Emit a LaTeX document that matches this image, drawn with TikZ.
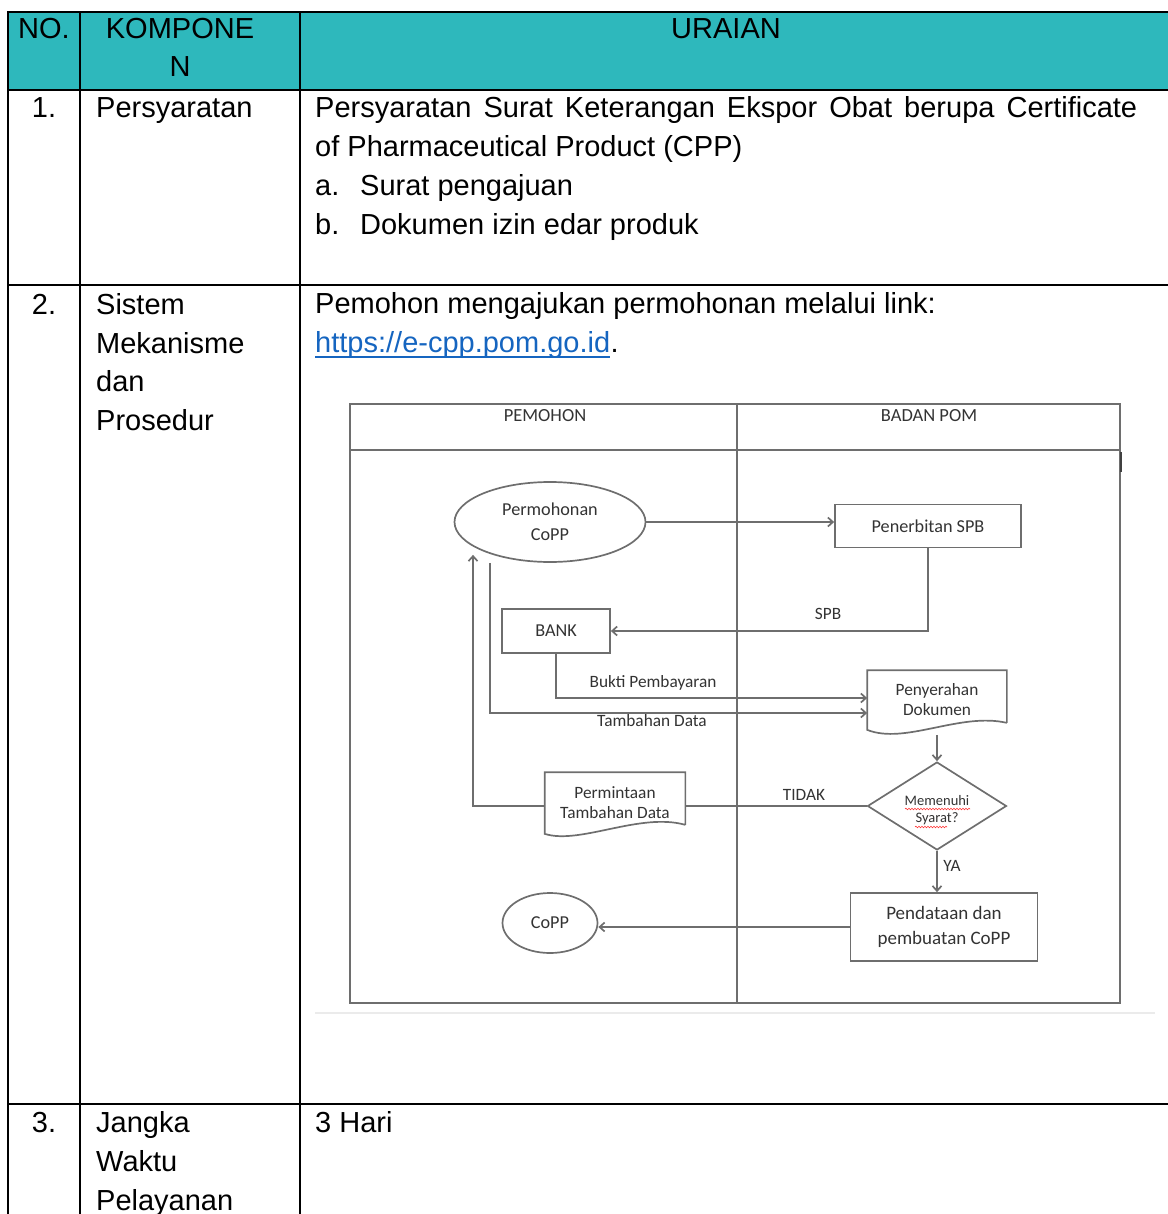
\documentclass[tikz,border=0pt]{standalone}
\usepackage{fontspec}
\setmainfont{Liberation Sans}
\newfontfamily\calfont{Carlito}
\usetikzlibrary{arrows.meta, positioning, shapes.geometric, decorations.pathmorphing}
\definecolor{tealhead}{HTML}{2EB8BC}
\definecolor{linkblue}{HTML}{1565C0}
\definecolor{flowgray}{HTML}{6E6E6E}
\definecolor{flowtext}{HTML}{333333}

\begin{document}
\begin{tikzpicture}[x=1pt, y=-1pt,
    cell/.style={anchor=base west, inner sep=0pt, font=\fontsize{29}{39}\selectfont},
    numcell/.style={anchor=base, inner sep=0pt, font=\fontsize{29}{39}\selectfont},
    grid/.style={line width=2.4pt},
    lane/.style={draw=flowgray, line width=1.7pt},
    flowbox/.style={draw=flowgray, line width=1.7pt, text=flowtext, align=center, inner sep=0pt,
      font=\calfont\fontsize{18.2}{25}\selectfont},
    docbox/.style={flowbox, draw=none, font=\calfont\fontsize{17.3}{20}\selectfont},
    flowlabel/.style={text=flowtext, inner sep=0pt, font=\calfont\fontsize{17.3}{20}\selectfont},
    flow/.style={draw=flowgray, line width=1.7pt, -{Straight Barb[length=5pt, width=9pt]}},
  ]
  \useasboundingbox (0,0) rectangle (1167,1214);

  % table
  \fill[tealhead] (8,12) rectangle (1170,90);
  \draw[grid] (1170,12) -- (8,12) -- (8,1220);
  \draw[grid] (80,12) -- (80,1220);
  \draw[grid] (300,12) -- (300,1220);
  \draw[grid] (8,90) -- (1170,90);
  \draw[grid] (8,285) -- (1170,285);
  \draw[grid] (8,1104) -- (1170,1104);

  \node[numcell] (hno) at (44,39) {NO.};
  \node[numcell] (hkomp) at (180,39) {KOMPONE};
  \node[numcell] (hkompb) at (180,77) {N};
  \node[numcell] (hurai) at (726,39) {URAIAN};

  \node[numcell] (no1) at (44,118) {1.};
  \node[cell] (komp1) at (96,118) {Persyaratan};
  \node[cell] (urai1a) at (315,118) {\makebox[822pt][s]{Persyaratan Surat Keterangan Ekspor Obat berupa Certificate}};
  \node[cell] (urai1b) at (315,157) {of Pharmaceutical Product (CPP)};
  \node[cell] (urai1c) at (315,196) {\makebox[45pt][l]{a.}Surat pengajuan};
  \node[cell] (urai1d) at (315,235) {\makebox[45pt][l]{b.}Dokumen izin edar produk};

  \node[numcell] (no2) at (44,314) {2.};
  \node[cell] (komp2a) at (96,314) {Sistem};
  \node[cell] (komp2b) at (96,353) {Mekanisme};
  \node[cell] (komp2c) at (96,391) {dan};
  \node[cell] (komp2d) at (96,430) {Prosedur};
  \node[cell] (urai2a) at (315,313) {Pemohon mengajukan permohonan melalui link:};
  \node[cell, text=linkblue] (link) at (315,352) {https://e-cpp.pom.go.id};
  \node[cell] (linkdot) at (link.base east) {.};
  \draw[linkblue, line width=1.6pt] ([yshift=-5pt]link.base west) -- ([yshift=-5pt]link.base east);

  \node[numcell] (no3) at (44,1132) {3.};
  \node[cell] (komp3a) at (96,1132) {Jangka};
  \node[cell] (komp3b) at (96,1171) {Waktu};
  \node[cell] (komp3c) at (96,1210) {Pelayanan};
  \node[cell] (urai3) at (315,1132) {3 Hari};

  % flow diagram
  \draw[black!8, line width=2pt] (315,1013) -- (1155,1013);
  \draw[lane] (350,404) rectangle (1120,1003);
  \draw[lane] (350,450) -- (1120,450);
  \draw[lane] (737,404) -- (737,1003);
  \draw[line width=2.5pt, black!75] (1121,452) -- (1121,472);
  \node[flowlabel, font=\calfont\fontsize{18.5}{20}\selectfont] (pemohon) at (545,416) {PEMOHON};
  \node[flowlabel, font=\calfont\fontsize{18.5}{20}\selectfont] (badan) at (929,416) {BADAN POM};

  \node[flowbox, ellipse, minimum width=191pt, minimum height=80pt] (mohon) at (550,522) {Permohonan\\CoPP};
  \node[flowbox, minimum width=186pt, minimum height=43pt] (terbit) at (928,526) {Penerbitan SPB};
  \node[flowbox, minimum width=108pt, minimum height=44pt] (bank) at (556,631) {BANK};
  \node[docbox, minimum width=138pt, minimum height=58pt] (serah) at (937,700) {Penyerahan\\Dokumen};
  \draw[lane] ([yshift=7pt]serah.south east) -- (serah.north east) -- (serah.north west) -- (serah.south west)
    .. controls (905,745) and (960,712) .. ([yshift=7pt]serah.south east);
  \node[flowbox, diamond, aspect=1.6, minimum width=139pt, minimum height=88pt,
    font=\calfont\fontsize{14.5}{17}\selectfont] (syarat) at (937,806)
    {\begin{tabular}{@{}c@{}}\rule{0pt}{22pt}Memenuhi\\Syarat?\end{tabular}};
  \draw[red!80, line width=0.6pt, decorate, decoration={snake, amplitude=0.8pt, segment length=3pt}]
    ([shift={(-32,3)}]syarat.center) -- ([shift={(33,3)}]syarat.center);
  \draw[red!80, line width=0.6pt, decorate, decoration={snake, amplitude=0.8pt, segment length=3pt}]
    ([shift={(-22,21)}]syarat.center) -- ([shift={(10,21)}]syarat.center);
  \node[docbox, minimum width=139pt, minimum height=60pt] (minta) at (615,803) {Permintaan\\Tambahan Data};
  \draw[lane] ([yshift=9pt]minta.south east) -- (minta.north east) -- (minta.north west) -- (minta.south west)
    .. controls (580,845) and (640,812) .. ([yshift=9pt]minta.south east);
  \node[flowbox, minimum width=187pt, minimum height=68pt, font=\calfont\fontsize{19}{25}\selectfont] (data) at (944,927) {Pendataan dan\\pembuatan CoPP};
  \node[flowbox, ellipse, minimum width=95pt, minimum height=60pt] (copp) at (550,923) {CoPP};

  \draw[flow] (mohon.east) -- (mohon.east -| terbit.west);
  \draw[flow] (terbit.south) |- (bank.east);
  \node[flowlabel] (spb) at (828,614) {SPB};
  \draw[flow] (bank.south) |- ([yshift=2pt]serah.west);
  \node[flowlabel] (bukti) at (653,683) {Bukti Pembayaran};
  \draw[flow] ([xshift=-60pt]mohon.south) |- ([yshift=-13pt]serah.west);
  \node[flowlabel] (tambah) at (652,721) {Tambahan Data};
  \draw[flow] ([yshift=-5pt]serah.south) -- (syarat.north);
  \draw[lane] (syarat.west) -- (syarat.west -| minta.east);
  \draw[flow] (syarat.west -| minta.west) -| ([shift={(-77,-8)}]mohon.south);
  \node[flowlabel] (tidak) at (804,795) {TIDAK};
  \draw[flow] (syarat.south) -- (syarat.south |- data.north);
  \node[flowlabel] (ya) at (952,866) {YA};
  \draw[flow] (data.west) -- (data.west -| copp.east);
\end{tikzpicture}
\end{document}
